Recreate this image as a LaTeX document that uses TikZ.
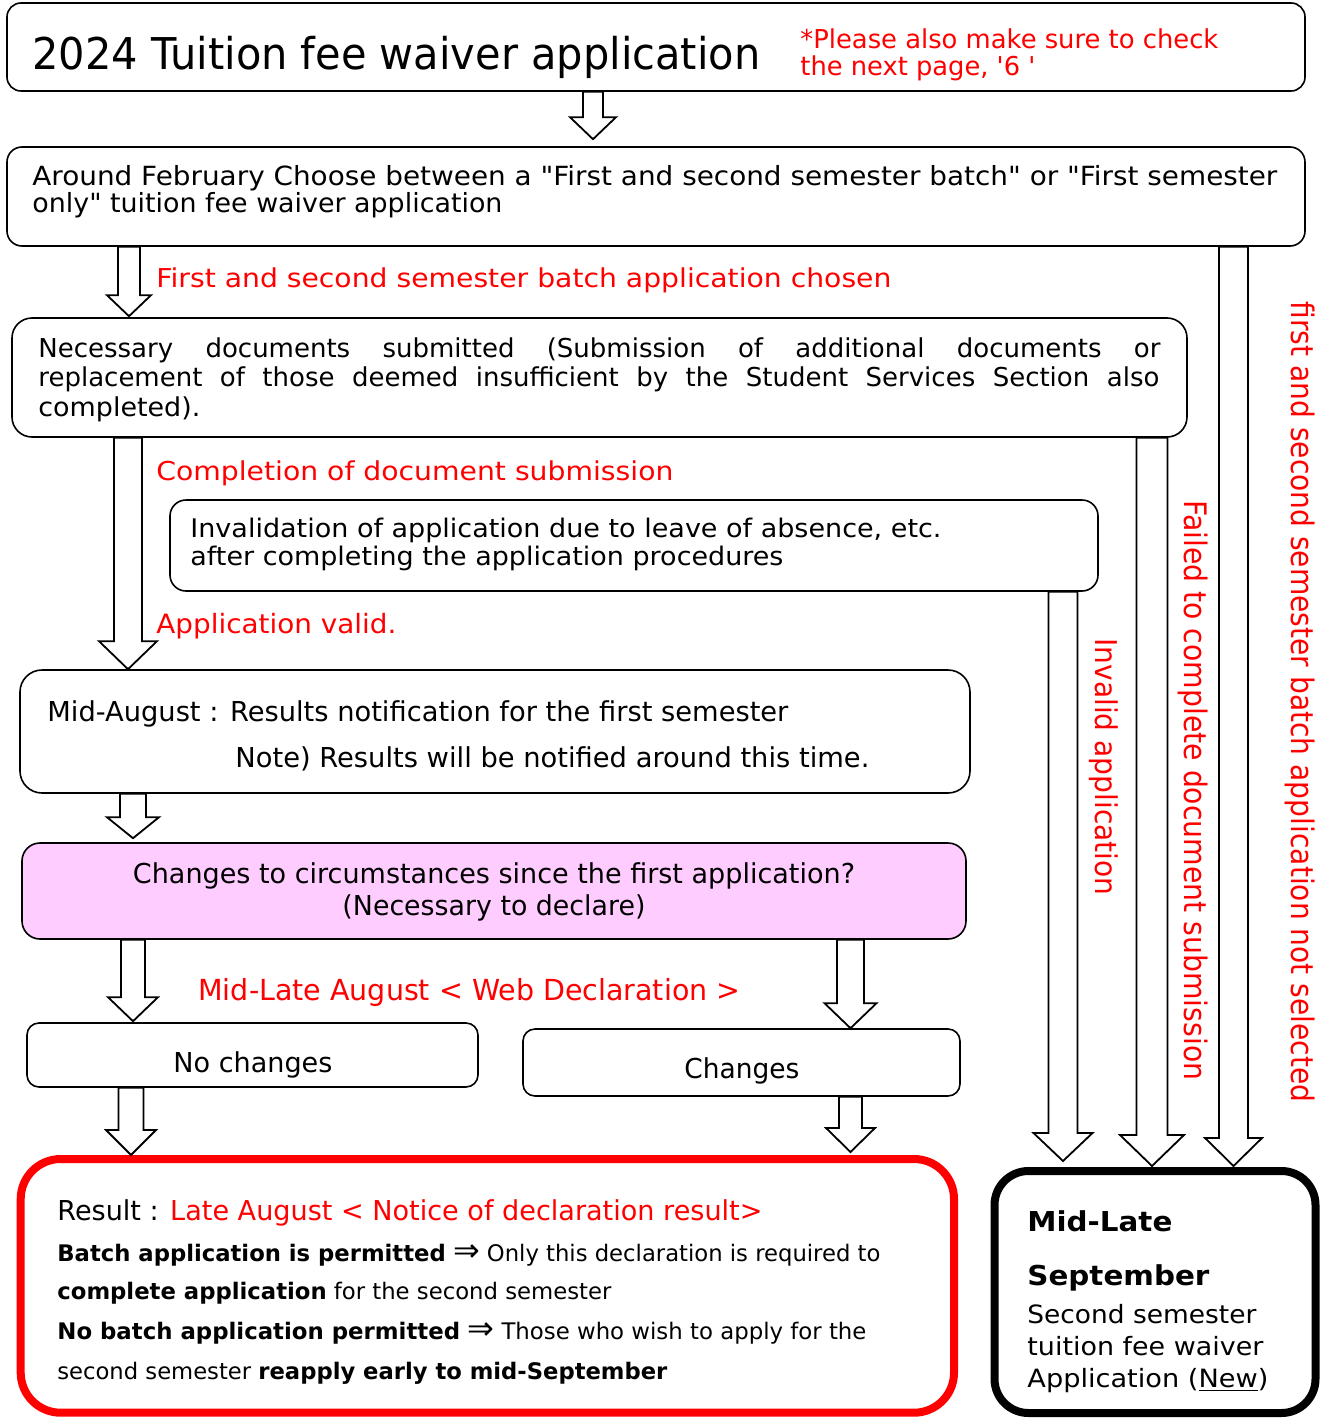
\documentclass[tikz,border=0pt]{standalone}
\usepackage{fontspec}
\setmainfont{DejaVu Sans}[Ligatures=TeXOff]
\usepackage{graphicx}
\usetikzlibrary{calc}
\definecolor{pinkfill}{RGB}{255,204,255}
\definecolor{myred}{RGB}{255,0,0}

\newlength\tmpw
% fixed-width line: width in px, font size in pt, text
\newcommand\fw[3]{\resizebox{\dimexpr #1pt/2\relax}{\height}{\fontsize{#2}{#2}\selectfont #3}}
% justified line
\newcommand\jw[3]{{\fontsize{#2}{#2}\selectfont\settowidth\tmpw{#3}%
  \ifdim\tmpw>\dimexpr #1pt/2\relax\resizebox{\dimexpr #1pt/2\relax}{\height}{#3}%
  \else\makebox[\dimexpr #1pt/2\relax][s]{#3}\fi}}
\newcommand\bigimp{{\fontsize{16}{16}\selectfont ⇒}}

\tikzset{
  box/.style={draw=black, line width=0.8pt, rounded corners=#1, fill=white, inner sep=0pt},
  box/.default=7pt,
  txt/.style={inner sep=0pt, anchor=base west, text=black},
  redtxt/.style={txt, text=myred},
  ctxt/.style={inner sep=0pt, anchor=base, text=black},
  blk/.style={draw=black, line width=0.9pt, fill=white, line join=miter},
}

% box node from corner coordinates (px)
\newcommand\boxnode[6][]{\node[box,#1,minimum width={(#5-#3)*0.5pt},minimum height={(#6-#4)*0.5pt}] (#2) at ({(#3+#5)/2},{(#4+#6)/2}) {};}

% hollow block arrow: src, dst, x centre, shaft half, head half, head length, gap
\newcommand\barrow[7]{%
  \coordinate (bx) at (#3,0);
  \coordinate (bA) at (#1.south -| bx);
  \coordinate (bB) at ($(#2.north -| bx)+(0,-#7)$);
  \draw[blk] ($(bA)+(-#4,0)$) -- ($(bB)+(-#4,-#6)$) -- ($(bB)+(-#5,-#6)$) -- (bB)
     -- ($(bB)+(#5,-#6)$) -- ($(bB)+(#4,-#6)$) -- ($(bA)+(#4,0)$) -- cycle;}

\begin{document}
\begin{tikzpicture}[x=0.5pt, y=-0.5pt]
\useasboundingbox (0,0) rectangle (1324,1418);

% boxes
\boxnode[rounded corners=7pt]{title}{7}{3}{1305}{91}
\boxnode[rounded corners=7.5pt]{feb}{7}{147}{1305}{246}
\boxnode[rounded corners=10pt]{nec}{12}{318}{1187}{437}
\boxnode[rounded corners=8pt]{inv}{170}{500}{1098}{591}
\boxnode[rounded corners=11pt]{mid}{20}{670}{970}{793}
\boxnode[rounded corners=9pt, fill=pinkfill]{pink}{22}{843}{966}{939}
\boxnode[rounded corners=6pt]{nochg}{27}{1023}{478}{1087}
\boxnode[rounded corners=6pt]{chg}{523}{1029}{960}{1096}
\boxnode[rounded corners=20pt, draw=myred, line width=4pt]{result}{20.7}{1159}{954}{1412.7}
\boxnode[rounded corners=17pt, line width=4pt]{sept}{994.5}{1171}{1315.5}{1413}

% block arrows
\barrow{title}{feb}{593}{10}{23}{22}{7}
\barrow{feb}{nec}{129}{11}{22}{21}{1}
\barrow{nec}{mid}{128}{14}{29}{28}{0}
\barrow{mid}{pink}{133}{13}{26}{21}{4}
\barrow{pink}{nochg}{133}{12}{25}{24}{1}
\barrow{pink}{chg}{850.5}{13.5}{26}{25}{0}
\barrow{nochg}{result}{131}{12.5}{25}{25}{0}
\barrow{chg}{result}{850.5}{11.5}{24.5}{24}{3}
\barrow{feb}{sept}{1233.5}{14.5}{28.5}{28}{1}
\barrow{nec}{sept}{1152}{15.5}{32}{31}{1}
\barrow{inv}{sept}{1063}{14.5}{29.5}{28}{6}

% texts
\node[txt] (ttl) at (32,70) {\fw{728}{21.9}{2024 Tuition fee waiver application}};
\node[redtxt] (note1) at (800,48.5) {\fw{418}{13}{*Please also make sure to check}};
\node[redtxt] (note2) at (800,75.5) {\fw{235}{13}{the next page, '6 '}};

\node[txt] (feb1) at (32,185.5) {\fw{1245}{13.2}{Around February Choose between a "First and second semester batch" or "First semester}};
\node[txt] (feb2) at (32,212) {\fw{470}{13.2}{only" tuition fee waiver application}};

\node[redtxt] (lab1) at (156,287) {\fw{735}{13}{First and second semester batch application chosen}};

\node[txt] (nec1) at (38,357) {\jw{1122}{13}{Necessary documents submitted (Submission of additional documents or}};
\node[txt] (nec2) at (38,386.5) {\jw{1121}{13}{replacement of those deemed insufficient by the Student Services Section also}};
\node[txt] (nec3) at (38,416) {\fw{162}{13}{completed).}};

\node[redtxt] (lab2) at (156,480) {\fw{517}{13}{Completion of document submission}};
\node[txt] (inv1) at (190,537) {\fw{751}{12.8}{Invalidation of application due to leave of absence, etc.}};
\node[txt] (inv2) at (190,565.5) {\fw{593}{12.8}{after completing the application procedures}};
\node[redtxt] (lab3) at (156,633) {\fw{240}{13.3}{Application valid.}};

\node[txt] (mid1) at (47,721) {\fw{741}{13.7}{Mid-August : Results notification for the first semester}};
\node[txt] (mid2) at (235,767) {\fw{634}{13.7}{Note) Results will be notified around this time.}};

\node[ctxt] (pk1) at (494,883) {\fw{722}{13.7}{Changes to circumstances since the first application?}};
\node[ctxt] (pk2) at (494,915) {\fw{303}{13.7}{(Necessary to declare)}};

\node[redtxt] (lab4) at (198,1000) {\fw{542}{14.5}{Mid-Late August < Web Declaration >}};
\node[txt] (nc) at (173,1072) {\fw{159}{13.7}{No changes}};
\node[txt] (ch) at (684,1078) {\fw{115}{13.7}{Changes}};

\node[txt] (r1) at (57,1220) {\fw{705}{13.7}{Result : \textcolor{myred}{Late August < Notice of declaration result>}}};
\node[txt] (r2) at (57,1261.5) {\fw{823}{11.4}{\textbf{Batch application is permitted} \bigimp{} Only this declaration is required to}};
\node[txt] (r3) at (57,1299.5) {\fw{554}{11.4}{\textbf{complete application} for the second semester}};
\node[txt] (r4) at (57,1339.5) {\fw{809}{11.4}{\textbf{No batch application permitted} \bigimp{} Those who wish to apply for the}};
\node[txt] (r5) at (57,1379.5) {\fw{610}{11.4}{second semester \textbf{reapply early to mid-September}}};

\node[txt] (s1) at (1027,1231.7) {\fw{145}{13.7}{\textbf{Mid-Late}}};
\node[txt] (s2) at (1027,1285.7) {\fw{182}{13.7}{\textbf{September}}};
\node[txt] (s3) at (1027,1323.3) {\fw{229}{12.6}{Second semester}};
\node[txt] (s4) at (1027,1355) {\fw{236}{12.6}{tuition fee waiver}};
\node[txt] (s5) at (1027,1387) {\fw{241}{12.6}{Application (\underline{New})}};

% vertical labels
\node[redtxt, rotate=-90] (v1) at (1291,301) {\fw{801}{15.5}{first and second semester batch application not selected}};
\node[redtxt, rotate=-90] (v2) at (1184,500) {\fw{580}{15.5}{Failed to complete document submission}};
\node[redtxt, rotate=-90] (v3) at (1095,638) {\fw{257}{15}{Invalid application}};
\end{tikzpicture}
\end{document}
